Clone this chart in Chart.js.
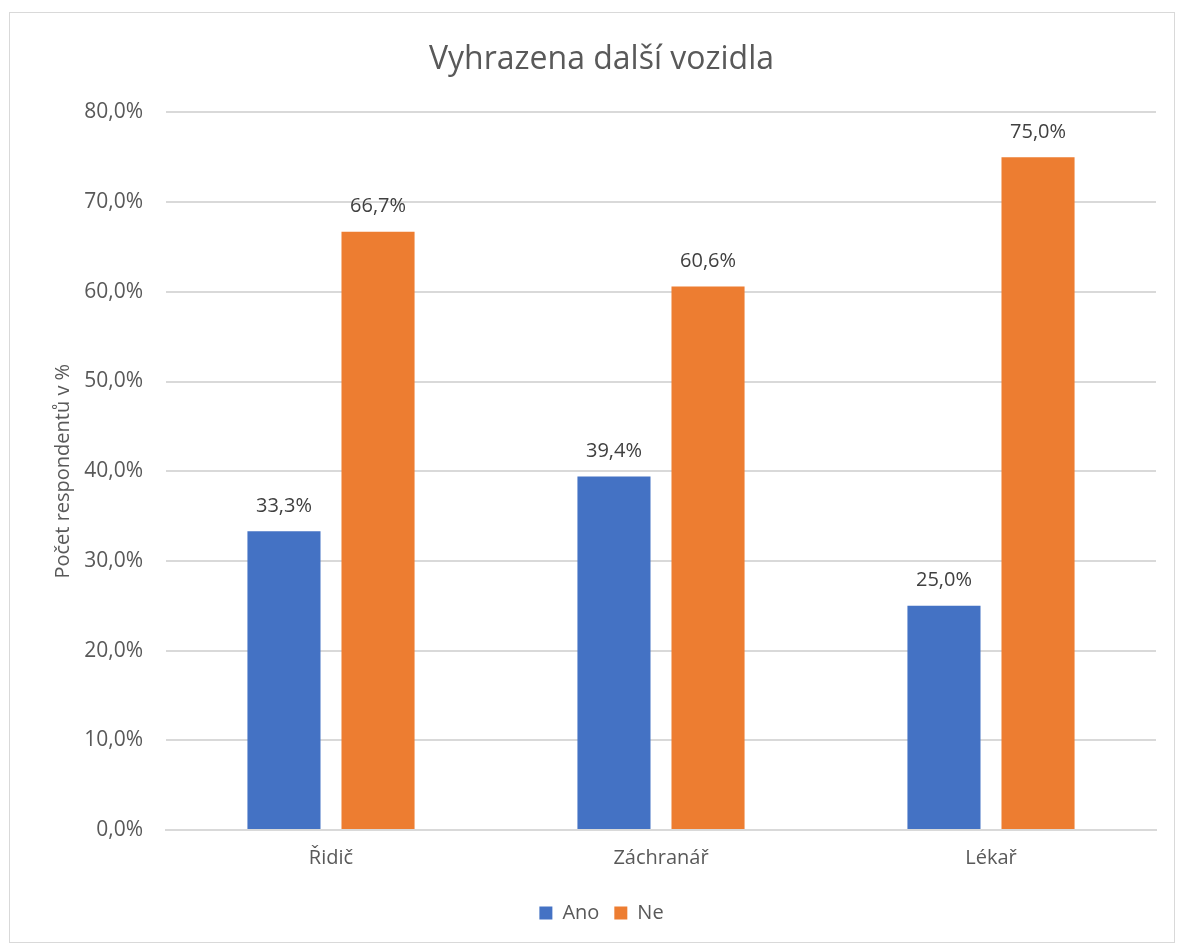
<!DOCTYPE html>
<html>
<head>
<meta charset="utf-8">
<script src="https://cdn.jsdelivr.net/npm/chart.js@4.4.1/dist/chart.umd.min.js"></script>
<style>
  html, body { margin: 0; padding: 0; background: #fff; }
  #box {
    position: absolute; left: 9px; top: 12px;
    width: 1164px; height: 929px;
    border: 1px solid #d9d9d9;
  }
</style>
</head>
<body>
<div id="box"><canvas id="chart"></canvas></div>
<script>
// data
const categories = ['Řidič', 'Záchranář', 'Lékař'];
const anoValues = [33.3, 39.4, 25.0];
const neValues = [66.7, 60.6, 75.0];
const yTicks = [0, 10, 20, 30, 40, 50, 60, 70, 80];

const textColor = '#595959';
const fontFamily = "'Open Sans', 'Noto Sans', sans-serif";

function pct(v) {
    return v.toFixed(1).replace('.', ',') + '%';
}

// popisky nad sloupci
const valueLabels = {
    id: 'valueLabels',
    afterDatasetsDraw(chart) {
        const ctx = chart.ctx;
        ctx.save();
        ctx.font = '20px ' + fontFamily;
        ctx.fillStyle = '#404040';
        ctx.textAlign = 'center';
        ctx.textBaseline = 'bottom';
        chart.data.datasets.forEach(function(ds, i) {
            chart.getDatasetMeta(i).data.forEach(function(bar, j) {
                ctx.fillText(pct(ds.data[j]), bar.x, bar.y - 15);
            });
        });
        ctx.restore();
    }
};

const config = {
    type: 'bar',
    data: {
        labels: categories,
        datasets: [{
            label: 'Ano',
            data: anoValues,
            backgroundColor: '#4472c4',
            categoryPercentage: 0.57,
            barPercentage: 0.777
        }, {
            label: 'Ne',
            data: neValues,
            backgroundColor: '#ed7d31',
            categoryPercentage: 0.57,
            barPercentage: 0.777
        }]
    },
    options: {
        responsive: true,
        maintainAspectRatio: false,
        animation: false,
        layout: { padding: { left: 37, right: 18, top: 28, bottom: 9 } },
        plugins: {
            title: {
                display: true,
                text: 'Vyhrazena další vozidla',
                color: textColor,
                font: { family: fontFamily, size: 32, weight: 'normal' },
                padding: { top: 0, bottom: 33 }
            },
            legend: {
                position: 'bottom',
                labels: {
                    color: textColor,
                    font: { family: fontFamily, size: 20 },
                    boxWidth: 13,
                    boxHeight: 13,
                    padding: 15
                }
            },
            tooltip: { enabled: false }
        },
        scales: {
            x: {
                grid: { display: false },
                border: { color: '#d9d9d9', width: 2 },
                afterFit(scale) { scale.height += 10; },
                ticks: {
                    color: textColor,
                    font: { family: fontFamily, size: 20 },
                    padding: 8
                }
            },
            y: {
                min: 0,
                max: 80,
                afterBuildTicks(scale) {
                    scale.ticks = yTicks.map(function(v) { return { value: v }; });
                },
                afterFit(scale) { scale.width = 119; },
                grid: { color: '#d9d9d9', lineWidth: 2, drawTicks: false },
                border: { display: false },
                ticks: {
                    color: textColor,
                    font: { family: fontFamily, size: 21 },
                    padding: 23,
                    callback: function(v) { return pct(v); }
                },
                title: {
                    display: true,
                    text: 'Počet respondentů v %',
                    color: textColor,
                    font: { family: fontFamily, size: 20 }
                }
            }
        }
    },
    plugins: [valueLabels]
};

new Chart(document.getElementById('chart'), config);
</script>
</body>
</html>
